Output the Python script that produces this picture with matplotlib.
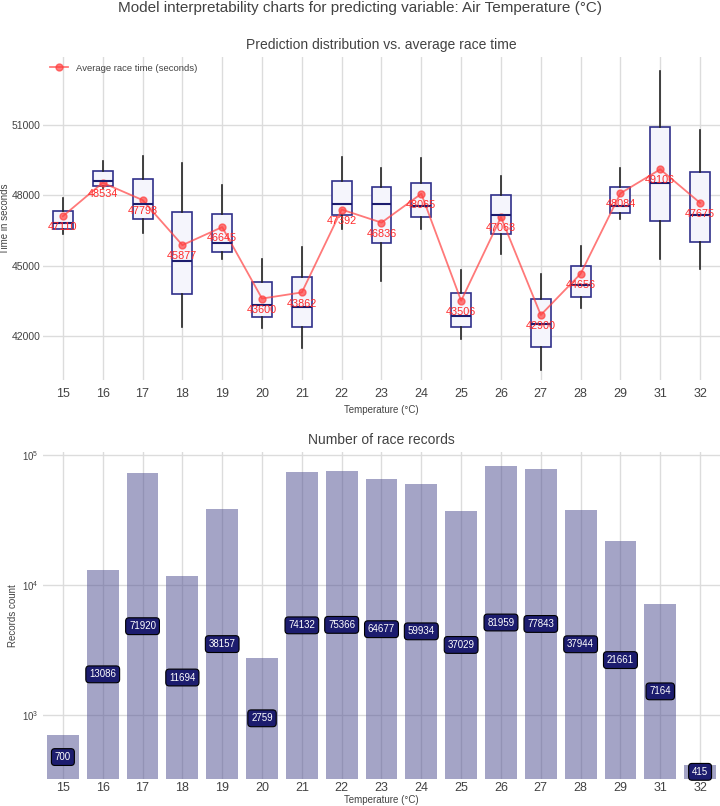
import matplotlib
matplotlib.use("Agg")
import matplotlib.pyplot as plt
import numpy as np

plt.rcParams['font.family'] = ['Liberation Sans', 'DejaVu Sans']

temps = ["15", "16", "17", "18", "19", "20", "21", "22", "23", "24", "25", "26", "27", "28", "29", "31", "32"]
avg_time = [47110, 48534, 47798, 45877, 46645, 43600, 43862, 47392, 46836, 48065, 43506, 47068, 42900, 44656, 48084, 49106, 47675]
whis_lo = [46350, 48300, 46406, 42384, 45270, 42327, 41474, 46564, 44346, 46550, 41858, 45497, 40536, 43180, 46976, 45270, 44843]
q1 = [46564, 48398, 46990, 43777, 45597, 42810, 42370, 47161, 45980, 47061, 42370, 46336, 41531, 43677, 47232, 46919, 46023]
med = [46832, 48624, 47617, 45199, 45952, 43336, 43251, 47617, 47644, 47545, 42853, 47175, 42512, 44175, 47545, 48540, 47161]
q3 = [47318, 49024, 48683, 47289, 47203, 44303, 44502, 48625, 48369, 48540, 43848, 48000, 43564, 45000, 48341, 50928, 48980]
whis_hi = [47873, 49464, 49690, 49366, 48440, 45284, 45782, 49648, 49151, 49606, 44829, 48824, 44630, 45839, 49151, 53316, 50786]
counts = [700, 13086, 71920, 11694, 38157, 2759, 74132, 75366, 64677, 59934, 37029, 81959, 77843, 37944, 21661, 7164, 415]

txt = '#424242'
grid_c = '#dcdcdc'

fig = plt.figure(figsize=(7.2, 8.06), dpi=100)
fig.suptitle("Model interpretability charts for predicting variable: Air Temperature (°C)",
             y=0.990, va='center', fontsize=11, color=txt)

x = np.arange(len(temps))

# ---------- top: boxplots ----------
ax1 = fig.add_axes([0.0597, 0.5285, 0.9403, 0.4008])
stats = []
for i in range(len(temps)):
    stats.append(dict(whislo=whis_lo[i], q1=q1[i], med=med[i], q3=q3[i], whishi=whis_hi[i], fliers=[]))
ax1.bxp(stats, positions=x, widths=0.5, showcaps=False, showfliers=False, patch_artist=True,
        boxprops=dict(facecolor='#f5f5fc', edgecolor='#30308a', linewidth=1.2),
        medianprops=dict(color='#1c1c6e', linewidth=1.5),
        whiskerprops=dict(color='#222222', linewidth=1.2),
        manage_ticks=False)
ax1.plot(x, avg_time, color='#ff4040', alpha=0.7, marker='o', markersize=5, linewidth=1.3,
         label='Average race time (seconds)')
for i, v in enumerate(avg_time):
    ax1.annotate(str(v), (x[i], v), xytext=(0, -8), textcoords='offset points',
                 ha='center', va='center', color='#ff2a2a', fontsize=7.8)
ax1.set_xlim(-0.5, len(temps) - 0.5)
ax1.set_ylim(40128, 53893)
ax1.set_yticks([42000, 45000, 48000, 51000])
ax1.set_xticks(x)
ax1.set_xticklabels(temps)
ax1.set_title("Prediction distribution vs. average race time", fontsize=10, color=txt, pad=6)
ax1.set_xlabel("Temperature (°C)", fontsize=7, color=txt, labelpad=3)
ax1.set_ylabel("Time in seconds", fontsize=7, color=txt, labelpad=1)
ax1.grid(True, color=grid_c, linewidth=1)
ax1.set_axisbelow(True)
for s in ax1.spines.values():
    s.set_visible(False)
ax1.tick_params(axis='x', labelsize=9, colors=txt, length=0, pad=6)
ax1.tick_params(axis='y', labelsize=7.5, colors=txt, length=0, pad=2)
ax1.legend(loc='upper left', frameon=False, fontsize=6.8, labelcolor=txt, borderaxespad=0.3)

# ---------- bottom: counts ----------
ax2 = fig.add_axes([0.0597, 0.0335, 0.9403, 0.4057])
ax2.set_yscale('log')
ylo, yhi = 322, 105000
ax2.bar(x, counts, width=0.8, color='#4b4b8f', alpha=0.5, zorder=2)
for i, c in enumerate(counts):
    ax2.text(x[i], np.sqrt(ylo * c), str(c), ha='center', va='center', fontsize=7, color='white', zorder=4,
             bbox=dict(boxstyle='round,pad=0.35', facecolor='#1c1c6e', edgecolor='black', linewidth=0.8))
ax2.set_xlim(-0.5, len(temps) - 0.5)
ax2.set_ylim(ylo, yhi)
ax2.set_xticks(x)
ax2.set_xticklabels(temps)
ax2.set_title("Number of race records", fontsize=10, color=txt, pad=6)
ax2.set_xlabel("Temperature (°C)", fontsize=7, color=txt, labelpad=1)
ax2.set_ylabel("Records count", fontsize=7, color=txt, labelpad=3)
ax2.grid(True, which='major', color=grid_c, linewidth=1, zorder=0)
ax2.minorticks_off()
ax2.set_axisbelow(True)
for s in ax2.spines.values():
    s.set_visible(False)
ax2.tick_params(axis='x', labelsize=9, colors=txt, length=0, pad=2)
ax2.tick_params(axis='y', labelsize=7, colors=txt, length=0, pad=3)

fig.savefig("out.png", dpi=100)
